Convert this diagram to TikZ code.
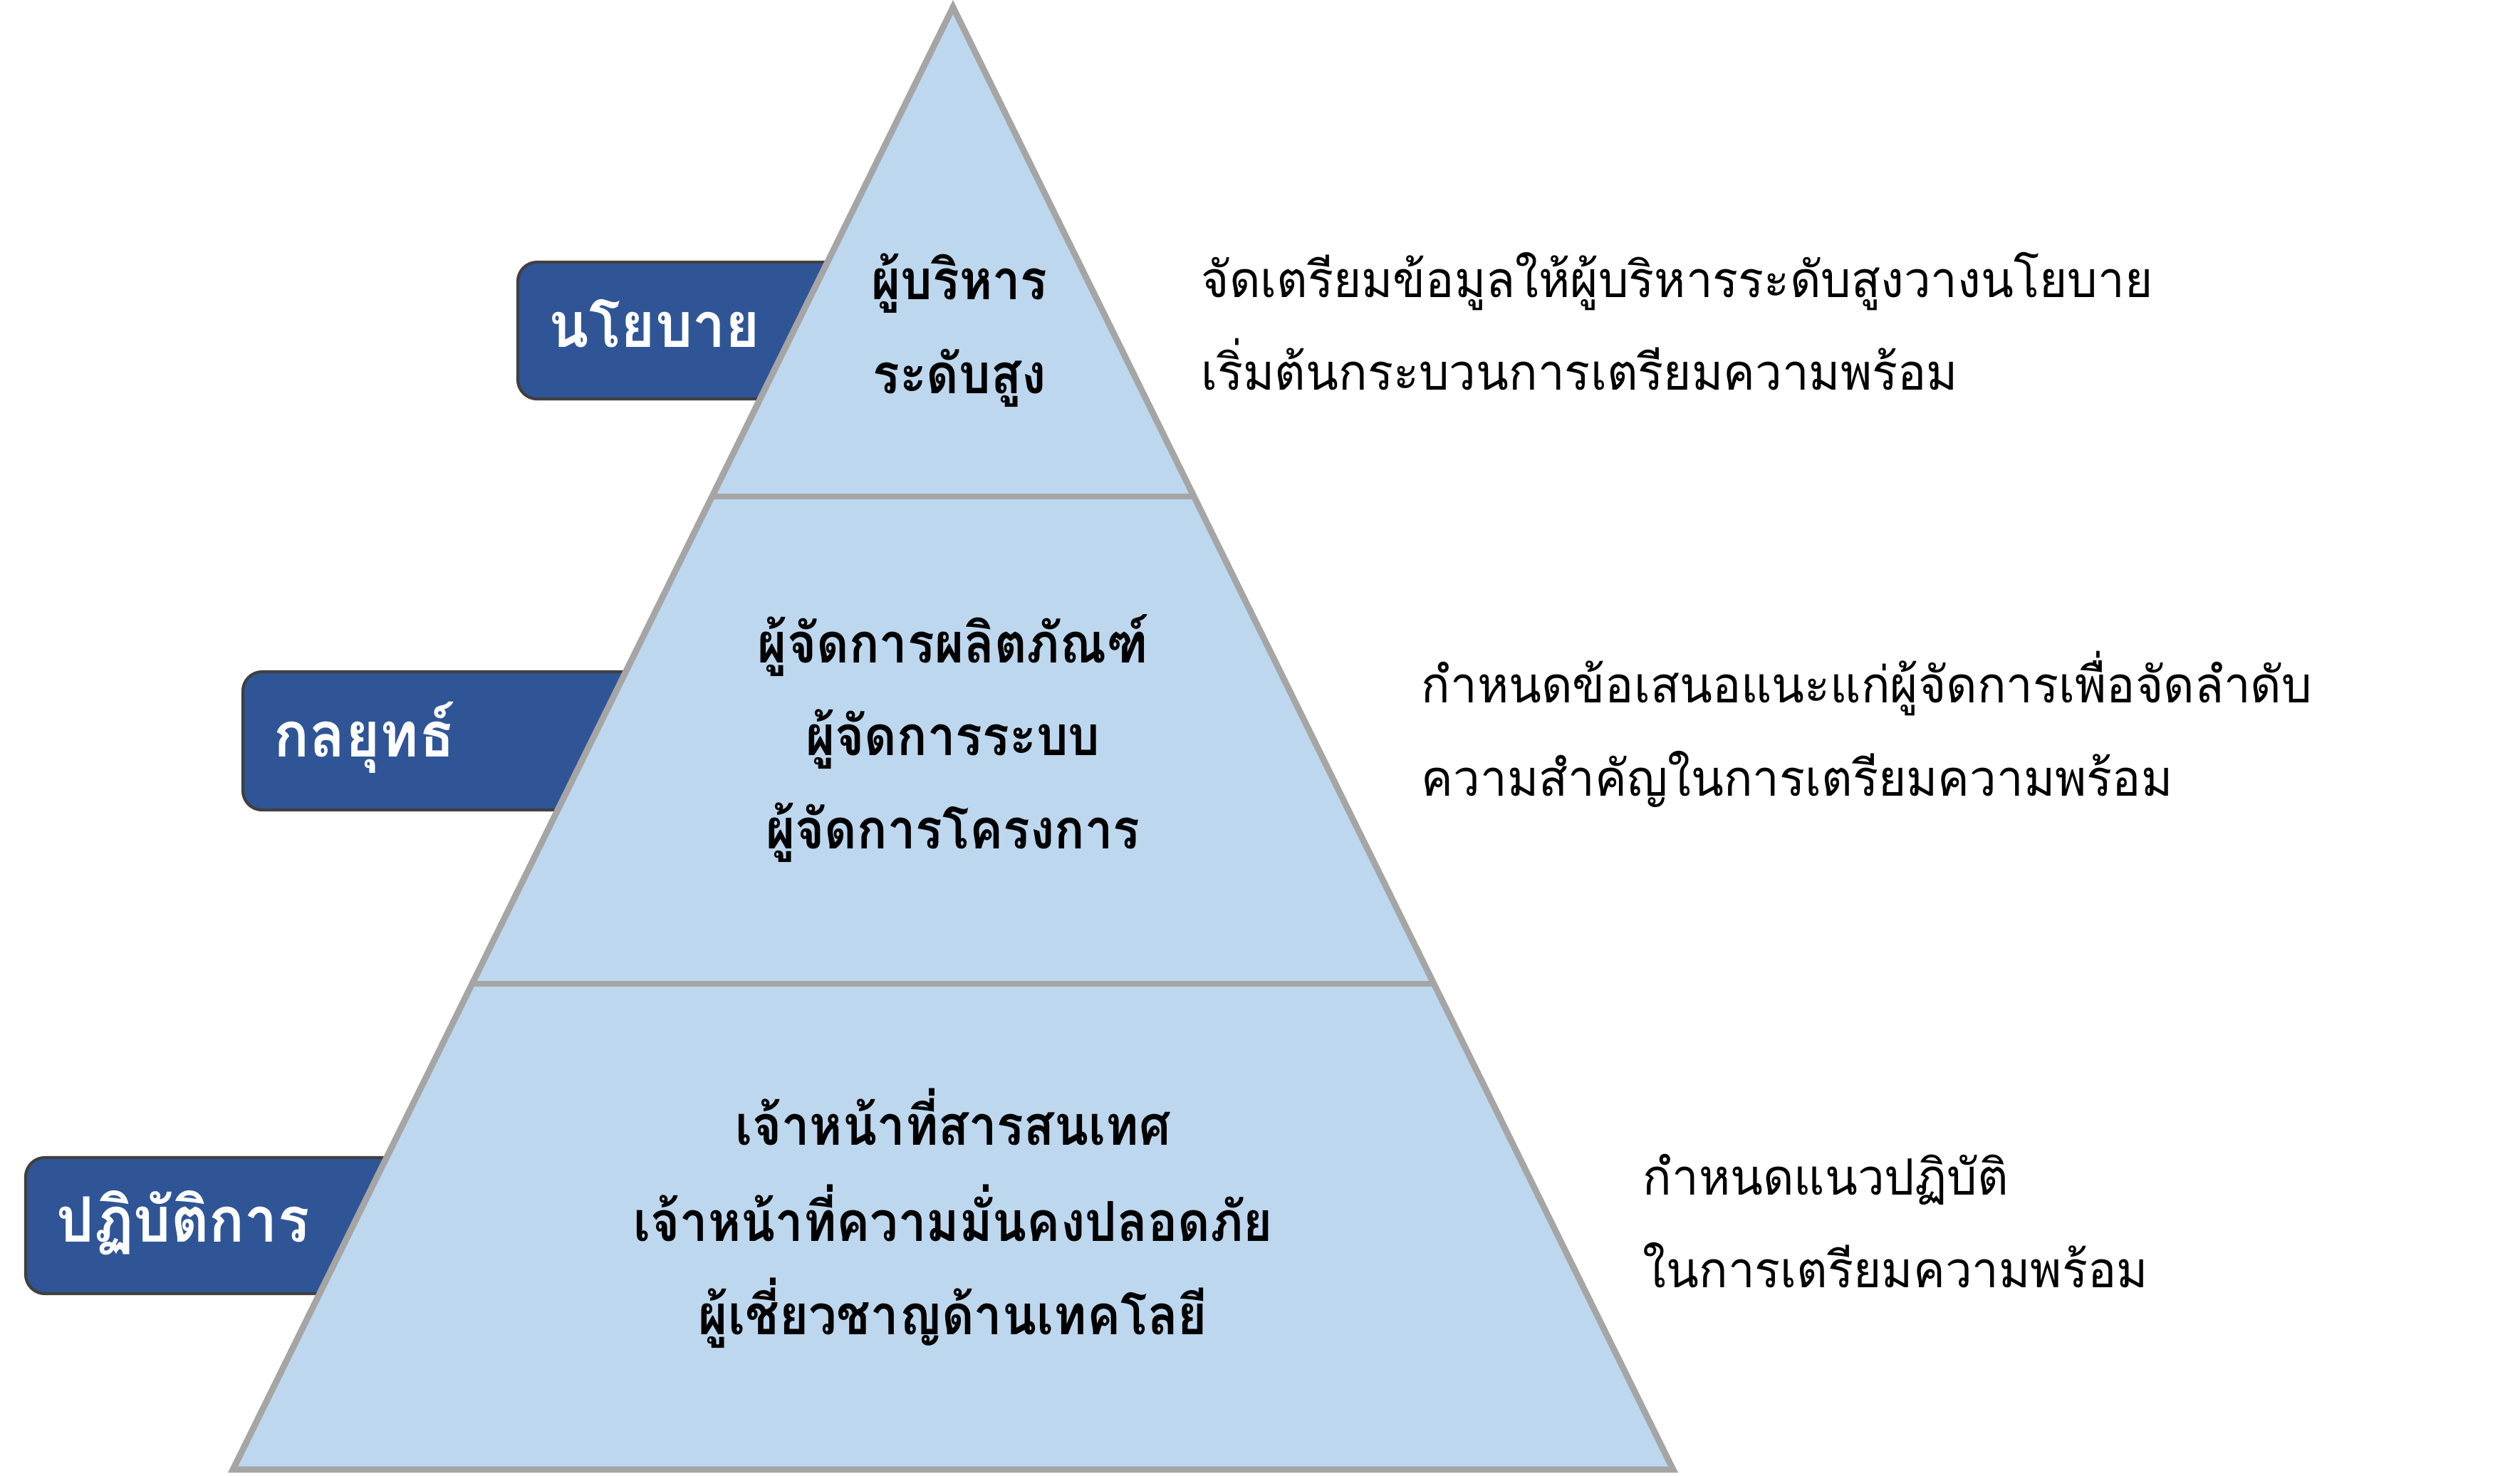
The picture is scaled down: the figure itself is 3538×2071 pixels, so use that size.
\documentclass[tikz,border=0pt]{standalone}
\usepackage{fontspec}
\newfontfamily\thaibox[Script=Thai,FakeStretch=0.94]{Loma}
\newfontfamily\thaipyr[Script=Thai,FakeStretch=0.91]{Loma}
\newfontfamily\thaidesc[Script=Thai,FakeStretch=0.955]{Loma}
\usetikzlibrary{calc}
\definecolor{pyrfill}{HTML}{BDD7EE}
\definecolor{pyrline}{HTML}{A5A5A5}
\definecolor{boxfill}{HTML}{2F5597}
\definecolor{boxline}{HTML}{404040}
\tikzset{
  lvlbox/.style={fill=boxfill,draw=boxline,line width=1.2pt,rounded corners=0.27cm},
  lvltext/.style={anchor=base west,inner sep=0pt,text=white,font=\thaibox\bfseries\fontsize{25}{30}\selectfont},
  pyrtext/.style={anchor=base,inner sep=0pt,font=\thaipyr\bfseries\fontsize{22}{26}\selectfont},
  desctext/.style={anchor=base west,inner sep=0pt,font=\thaidesc\fontsize{20}{24}\selectfont},
  pyrstroke/.style={draw=pyrline,line width=2.5pt,line join=miter}
}
\begin{document}
\begin{tikzpicture}[x=0.01cm,y=-0.01cm]
\useasboundingbox (0,0) rectangle (3538,2071);
% level boxes (right part hidden behind pyramid)
\path[lvlbox] (727,368) rectangle (1300,560);
\path[lvlbox] (341,943) rectangle (1000,1137);
\path[lvlbox] (36,1625) rectangle (700,1816);
\node[lvltext] (t1) at (770,487) {นโยบาย};
\node[lvltext] (t2) at (384,1062) {กลยุทธ์};
\node[lvltext] (t3) at (79,1743) {ปฏิบัติการ};
% pyramid
\coordinate (A) at (1338,10);
\coordinate (BL) at (327,2063);
\coordinate (BR) at (2349,2063);
\coordinate (L1) at ($(A)!0.33463!(BL)$);
\coordinate (R1) at ($(A)!0.33463!(BR)$);
\coordinate (L2) at ($(A)!0.66780!(BL)$);
\coordinate (R2) at ($(A)!0.66780!(BR)$);
\path[pyrstroke,fill=pyrfill] (A) -- (BR) -- (BL) -- cycle;
\draw[pyrstroke] (L1) -- (R1);
\draw[pyrstroke] (L2) -- (R2);
% pyramid texts
\node[pyrtext] (p11) at (1347,420) {ผู้บริหาร};
\node[pyrtext] (p12) at (1347,552) {ระดับสูง};
\node[pyrtext] (p21) at (1338,930) {ผู้จัดการผลิตภัณฑ์};
\node[pyrtext] (p22) at (1338,1060) {ผู้จัดการระบบ};
\node[pyrtext] (p23) at (1338,1191) {ผู้จัดการโครงการ};
\node[pyrtext] (p31) at (1338,1607) {เจ้าหน้าที่สารสนเทศ};
\node[pyrtext] (p32) at (1338,1742) {เจ้าหน้าที่ความมั่นคงปลอดภัย};
\node[pyrtext] (p33) at (1338,1873) {ผู้เชี่ยวชาญด้านเทคโลยี};
% descriptions
\node[desctext] (d11) at (1686,417) {จัดเตรียมข้อมูลให้ผู้บริหารระดับสูงวางนโยบาย};
\node[desctext] (d12) at (1686,547) {เริ่มต้นกระบวนการเตรียมความพร้อม};
\node[desctext] (d21) at (1995,986) {กำหนดข้อเสนอแนะแก่ผู้จัดการเพื่อจัดลำดับ};
\node[desctext] (d22) at (1995,1117) {ความสำคัญในการเตรียมความพร้อม};
\node[desctext] (d31) at (2306,1677) {กำหนดแนวปฏิบัติ};
\node[desctext] (d32) at (2306,1807) {ในการเตรียมความพร้อม};
\end{tikzpicture}
\end{document}
